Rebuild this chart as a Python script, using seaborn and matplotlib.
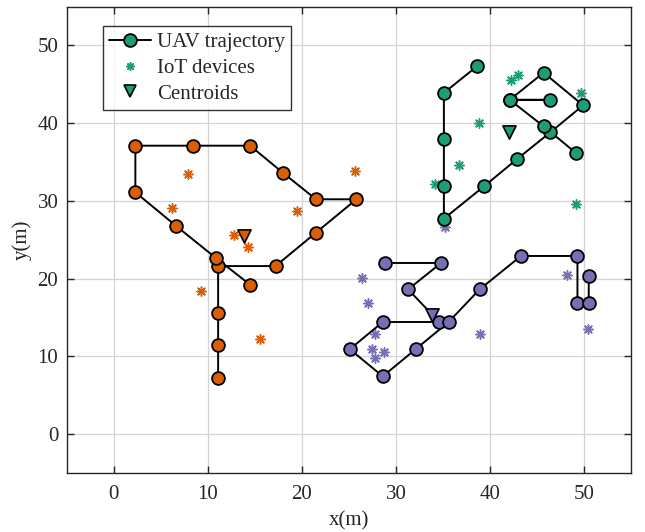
import numpy as np
import pandas as pd
import matplotlib
matplotlib.use('Agg')
import matplotlib.pyplot as plt
from matplotlib.lines import Line2D
import seaborn as sns

# UAV trajectories, one per cluster (x, y in metres)
orange_x = [11.1, 11.1, 11.1, 11.1, 17.2, 21.5, 25.8, 21.5, 18.0, 14.5, 8.4, 2.3, 2.3, 6.6, 10.9, 14.5]
orange_y = [7.2, 11.4, 15.6, 21.6, 21.6, 25.9, 30.2, 30.2, 33.6, 37.1, 37.1, 37.1, 31.1, 26.8, 22.6, 19.2]

purple_x = [28.8, 34.8, 31.3, 34.6, 28.6, 25.1, 28.6, 32.1, 35.6, 38.9, 43.3, 49.3, 49.3, 50.5, 50.5]
purple_y = [22.0, 22.0, 18.6, 14.4, 14.4, 10.9, 7.4, 10.9, 14.4, 18.6, 22.9, 22.9, 16.9, 16.9, 20.3]

green_x = [38.6, 35.1, 35.1, 35.1, 35.1, 39.4, 42.9, 46.4, 49.9, 45.7, 42.1, 46.4, 42.1, 45.7, 49.1]
green_y = [47.3, 43.9, 37.9, 31.9, 27.7, 31.9, 35.4, 38.8, 42.3, 46.5, 43.0, 43.0, 43.0, 39.6, 36.2]

# IoT devices
orange_iot_x = [7.9, 25.7, 6.2, 19.5, 12.8, 14.3, 9.3, 15.6]
orange_iot_y = [33.4, 33.8, 29.1, 28.7, 25.6, 24.1, 18.4, 12.2]

purple_iot_x = [26.4, 27.0, 27.8, 27.5, 28.7, 27.8, 38.9, 48.2, 50.4, 35.2]
purple_iot_y = [20.1, 16.9, 12.8, 10.9, 10.6, 9.8, 12.9, 20.5, 13.5, 26.6]

green_iot_x = [42.2, 43.0, 49.7, 38.8, 36.7, 34.2, 49.1]
green_iot_y = [45.6, 46.2, 43.9, 40.0, 34.6, 32.2, 29.6]

# centroids
cent_x = [13.9, 33.8, 42.0]
cent_y = [25.5, 15.3, 38.8]

colors = ['#D95F02', '#7570B3', '#1B9E77']

sns.set_theme(style='whitegrid')
plt.rcParams['font.family'] = ['Liberation Serif', 'DejaVu Serif']

fig = plt.figure(figsize=(6.45, 5.32), dpi=100)
ax = fig.add_axes([0.1034, 0.1115, 0.875, 0.876])

star = (8, 2, 0)

trajs = [(orange_x, orange_y), (purple_x, purple_y), (green_x, green_y)]
iots = [(orange_iot_x, orange_iot_y), (purple_iot_x, purple_iot_y), (green_iot_x, green_iot_y)]

for i, c in enumerate(colors):
    ix, iy = iots[i]
    sns.scatterplot(x=ix, y=iy, ax=ax, marker=star, s=45, color=c,
                    linewidth=1.1, edgecolor=c, zorder=3)

for i, c in enumerate(colors):
    tx, ty = trajs[i]
    df = pd.DataFrame({'x': tx, 'y': ty})
    sns.lineplot(data=df, x='x', y='y', sort=False, estimator=None, ax=ax,
                 color='black', linewidth=1.4, marker='o', markersize=9.2,
                 markerfacecolor=c, markeredgecolor='black', markeredgewidth=1.3,
                 zorder=4)

for i, c in enumerate(colors):
    sns.scatterplot(x=[cent_x[i]], y=[cent_y[i]], ax=ax, marker='v', s=90,
                    color=c, edgecolor='black', linewidth=1.2, zorder=5)

ax.set_xlim(-5, 55)
ax.set_ylim(-5, 55)
ax.set_xticks([0, 10, 20, 30, 40, 50])
ax.set_yticks([0, 10, 20, 30, 40, 50])
ax.set_xlabel('x(m)', fontsize=15, labelpad=5)
ax.set_ylabel('y(m)', fontsize=15, labelpad=4)
ax.tick_params(axis='both', labelsize=15, direction='in', length=5, width=1,
               colors='#262626', top=True, right=True, bottom=True, left=True)
ax.tick_params(axis='x', pad=9)
ax.tick_params(axis='y', pad=6)
ax.grid(True, color='#d4d4d4', linewidth=0.9)
for s in ax.spines.values():
    s.set_edgecolor('#262626')
    s.set_linewidth(1.0)
ax.set_facecolor('white')

handles = [
    Line2D([0], [0], color='black', lw=1.4, marker='o', markersize=9.2,
           markerfacecolor=colors[2], markeredgecolor='black', markeredgewidth=1.3),
    Line2D([0], [0], color=colors[2], lw=0, marker=star, markersize=6,
           markeredgewidth=1.1),
    Line2D([0], [0], color='black', lw=0, marker='v', markersize=9,
           markerfacecolor=colors[2], markeredgecolor='black', markeredgewidth=1.2),
]
leg = ax.legend(handles, ['UAV trajectory', 'IoT devices', 'Centroids'],
                loc='upper left', bbox_to_anchor=(0.064, 0.958), fontsize=15,
                frameon=True, fancybox=False, handlelength=2.0,
                borderpad=0.3, labelspacing=0.3, handletextpad=0.3, borderaxespad=0)
leg.get_frame().set_edgecolor('black')
leg.get_frame().set_linewidth(1.0)

fig.savefig('out.png', dpi=100)
